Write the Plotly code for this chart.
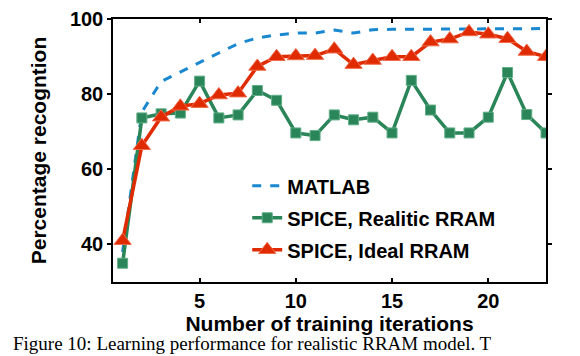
import plotly.graph_objects as go

iterations = list(range(1, 24))
matlab = [38, 75.3, 83.4, 86.0, 88.4, 91.0, 93.5, 95.0, 95.8, 96.3, 96.3, 97.1, 96.3,
          97.2, 97.3, 97.3, 97.3, 97.3, 97.4, 97.5, 97.5, 97.5, 97.5]
spice_real = [35.0, 73.7, 74.8, 75.0, 83.5, 73.7, 74.5, 81.0, 78.4, 69.7, 69.0, 74.5, 73.2,
              73.9, 69.7, 83.7, 75.8, 69.7, 69.7, 73.9, 85.8, 74.6, 69.7]
spice_ideal = [41.0, 66.3, 73.9, 76.8, 77.5, 79.8, 80.3, 87.4, 90.0, 90.2, 90.3, 92.0, 87.9,
               89.0, 90.0, 90.0, 93.9, 94.7, 96.6, 96.0, 94.8, 91.4, 90.0]
names = ["MATLAB", "SPICE, Realitic RRAM", "SPICE, Ideal RRAM"]
x_ticks = [5, 10, 15, 20]
y_ticks = [40, 60, 80, 100]

BLUE = "#1a88d0"
GREEN = "#2a8558"
RED = "#e02a00"
FAM = "Liberation Sans, Arial, sans-serif"
tickfont = dict(family=FAM, size=20, color="black", weight="bold")
titlefont = dict(family=FAM, size=21, color="black", weight="bold")

fig = go.Figure()
fig.add_trace(go.Scatter(x=iterations, y=matlab, name=names[0], mode="lines",
                         line=dict(color=BLUE, width=3, dash="dash"), legendgroup="a"))
fig.add_trace(go.Scatter(x=iterations, y=spice_real, name=names[1], mode="lines+markers",
                         line=dict(color=GREEN, width=3.5),
                         marker=dict(symbol="square", size=10, color=GREEN,
                                     line=dict(color="#5fae86", width=1)), legendgroup="b"))
fig.add_trace(go.Scatter(x=iterations, y=spice_ideal, name=names[2], mode="lines+markers",
                         line=dict(color=RED, width=3.5),
                         marker=dict(symbol="triangle-up", size=15, color=RED,
                                     line=dict(color="#f06a4a", width=1)), legendgroup="c"))

axis_common = dict(showline=True, linecolor="black", linewidth=1.5, mirror="ticks",
                   showgrid=False, zeroline=False, ticklen=4, tickwidth=1.5,
                   tickcolor="black", tickfont=tickfont, ticklabeloverflow="allow",
                   automargin=False)
fig.update_xaxes(range=[0.5, 23], tickvals=x_ticks, ticks="inside",
                 title=dict(text="Number of training iterations", font=titlefont, standoff=0),
                 **axis_common)
fig.update_yaxes(range=[30, 100.05], tickvals=y_ticks, ticks="outside",
                 title=dict(text="Percentage recogntion", font=titlefont, standoff=18),
                 **axis_common)

fig.add_annotation(text="Figure 10: Learning performance for realistic RRAM model. T",
                   xref="paper", yref="paper", x=-0.235, y=-0.283, xanchor="left",
                   yanchor="bottom", showarrow=False,
                   font=dict(family="Liberation Serif, Times New Roman, serif", size=19,
                             color="black"))

fig.update_layout(width=580, height=356, margin=dict(l=105, r=42, t=11, b=82),
                  plot_bgcolor="white", paper_bgcolor="white",
                  legend=dict(x=0.31, y=0.44, xanchor="left", yanchor="top",
                              font=tickfont, bgcolor="rgba(0,0,0,0)", tracegroupgap=3),
                  showlegend=True)

fig.write_html("out.html")
